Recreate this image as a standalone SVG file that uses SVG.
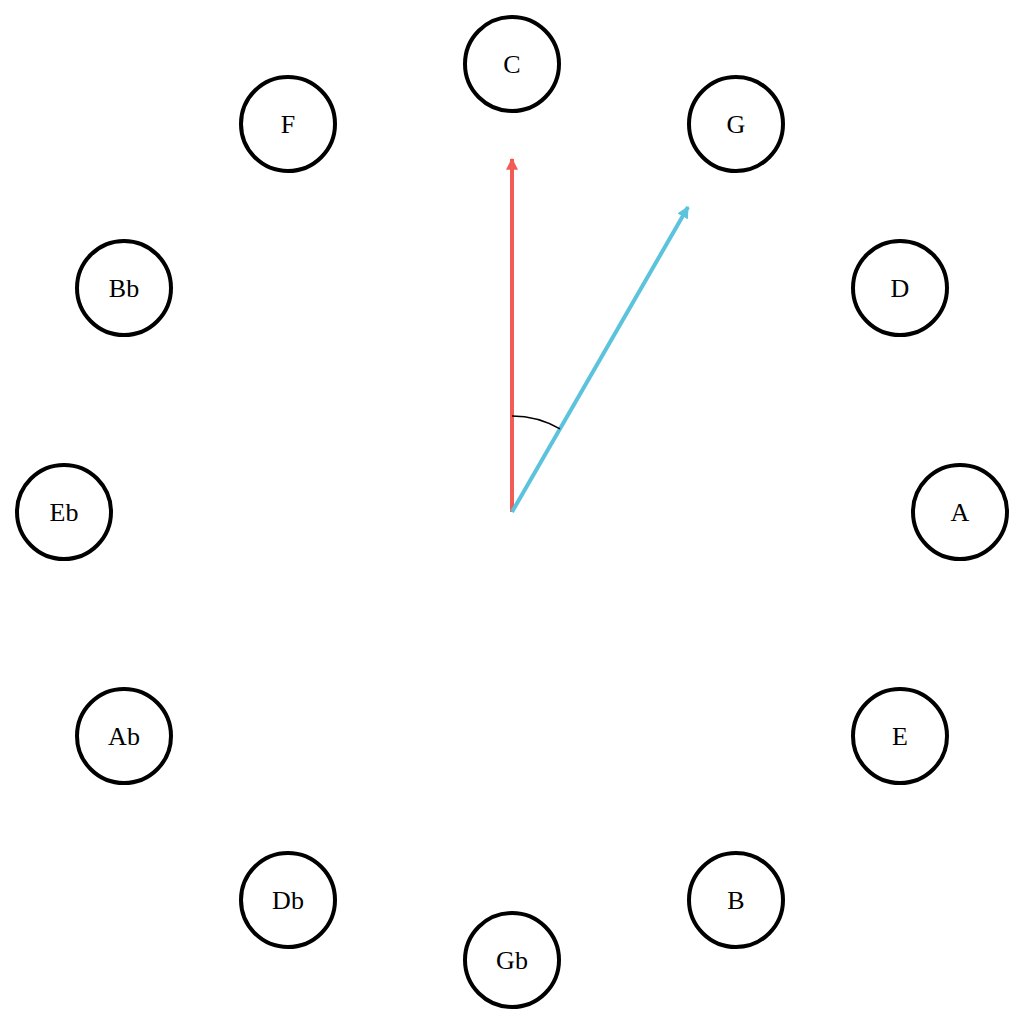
<svg xmlns="http://www.w3.org/2000/svg" width="1024" height="1024" viewBox="0 0 1024 1024">
<style>
.node circle{fill:#fff;stroke:#000;stroke-width:4}
.node text{font-family:"Liberation Serif","DejaVu Serif",serif;font-size:26px;fill:#000;text-anchor:middle;dominant-baseline:central}
</style>
<defs>
<marker id="ar" viewBox="0 0 10 10" refX="9" refY="5" markerWidth="3" markerHeight="3" orient="auto" markerUnits="strokeWidth"><path d="M0,0L10,5L0,10z" fill="#f25c54"/></marker>
<marker id="ab" viewBox="0 0 10 10" refX="9" refY="5" markerWidth="3" markerHeight="3" orient="auto" markerUnits="strokeWidth"><path d="M0,0L10,5L0,10z" fill="#5bc3db"/></marker>
</defs>
<rect width="1024" height="1024" fill="#fff"/>
<g id="connectors">
<line x1="512" y1="512" x2="512" y2="159" stroke="#f25c54" stroke-width="4" marker-end="url(#ar)"/>
<line x1="512" y1="512" x2="688" y2="207" stroke="#5bc3db" stroke-width="4" marker-end="url(#ab)"/>
<path d="M512,416 A96,96 0 0 1 560,428.9" fill="none" stroke="#000" stroke-width="1.5"/>
</g>
<g id="node-C" class="node"><circle cx="512" cy="64" r="47"/><text x="512" y="64">C</text></g>
<g id="node-G" class="node"><circle cx="736" cy="124" r="47"/><text x="736" y="124">G</text></g>
<g id="node-D" class="node"><circle cx="900" cy="288" r="47"/><text x="900" y="288">D</text></g>
<g id="node-A" class="node"><circle cx="960" cy="512" r="47"/><text x="960" y="512">A</text></g>
<g id="node-E" class="node"><circle cx="900" cy="736" r="47"/><text x="900" y="736">E</text></g>
<g id="node-B" class="node"><circle cx="736" cy="900" r="47"/><text x="736" y="900">B</text></g>
<g id="node-Gb" class="node"><circle cx="512" cy="960" r="47"/><text x="512" y="960">Gb</text></g>
<g id="node-Db" class="node"><circle cx="288" cy="900" r="47"/><text x="288" y="900">Db</text></g>
<g id="node-Ab" class="node"><circle cx="124" cy="736" r="47"/><text x="124" y="736">Ab</text></g>
<g id="node-Eb" class="node"><circle cx="64" cy="512" r="47"/><text x="64" y="512">Eb</text></g>
<g id="node-Bb" class="node"><circle cx="124" cy="288" r="47"/><text x="124" y="288">Bb</text></g>
<g id="node-F" class="node"><circle cx="288" cy="124" r="47"/><text x="288" y="124">F</text></g>
</svg>
